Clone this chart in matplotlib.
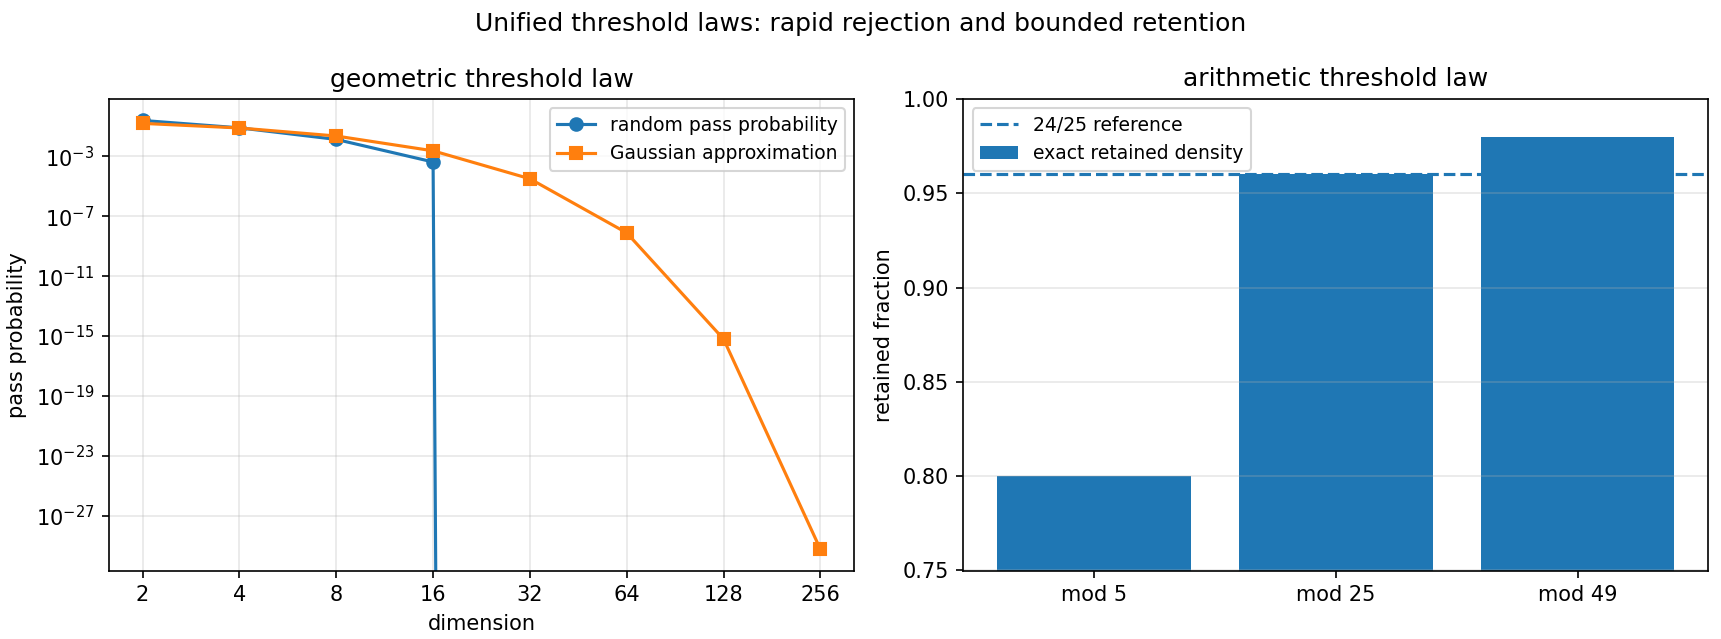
import matplotlib
matplotlib.use("Agg")
import matplotlib.pyplot as plt

# geometric panel
dims = [2, 4, 8, 16, 32, 64, 128, 256]
random_pass = [0.25, 0.08, 0.0135, 4.2e-4, 0.0, 0.0, 0.0, 0.0]
gaussian_approx = [0.159, 0.0786, 0.0228, 2.34e-3, 3.17e-5, 7.7e-9, 6.2e-16, 5.7e-30]
log_ticks = [1e-3, 1e-7, 1e-11, 1e-15, 1e-19, 1e-23, 1e-27]

# arithmetic panel
moduli = ["mod 5", "mod 25", "mod 49"]
retained = [0.80, 0.96, 0.98]
reference = 24 / 25

W, H = 1721, 639
fig = plt.figure(figsize=(W / 150, H / 150), dpi=150)

ax1 = fig.add_axes([108.7 / W, 1 - 570.7 / H, (854.3 - 108.7) / W, (570.7 - 99) / H])
ax2 = fig.add_axes([963.3 / W, 1 - 570.5 / H, (1708.3 - 963.3) / W, (570.5 - 99) / H])

ax1.plot(dims, random_pass, marker="o", label="random pass probability")
ax1.plot(dims, gaussian_approx, marker="s", label="Gaussian approximation")
ax1.set_xscale("log", base=2)
ax1.set_yscale("log")
ax1.set_xticks(dims)
ax1.set_xticklabels([str(d) for d in dims])
ax1.set_yticks(log_ticks)
ax1.set_title("geometric threshold law")
ax1.set_xlabel("dimension")
ax1.set_ylabel("pass probability")
ax1.grid(True, alpha=0.3)
ax1.legend(loc="upper right", fontsize=9)

ax2.axhline(reference, linestyle="--", label="24/25 reference")
ax2.bar(moduli, retained, label="exact retained density")
ax2.set_ylim(0.75, 1.0)
ax2.set_title("arithmetic threshold law")
ax2.set_ylabel("retained fraction")
ax2.grid(True, axis="y", alpha=0.3)
ax2.legend(loc="upper left", fontsize=9)

fig.suptitle("Unified threshold laws: rapid rejection and bounded retention",
             fontsize=12, y=1 - 12 / H, va="top")

fig.savefig("out.png", dpi=150)
